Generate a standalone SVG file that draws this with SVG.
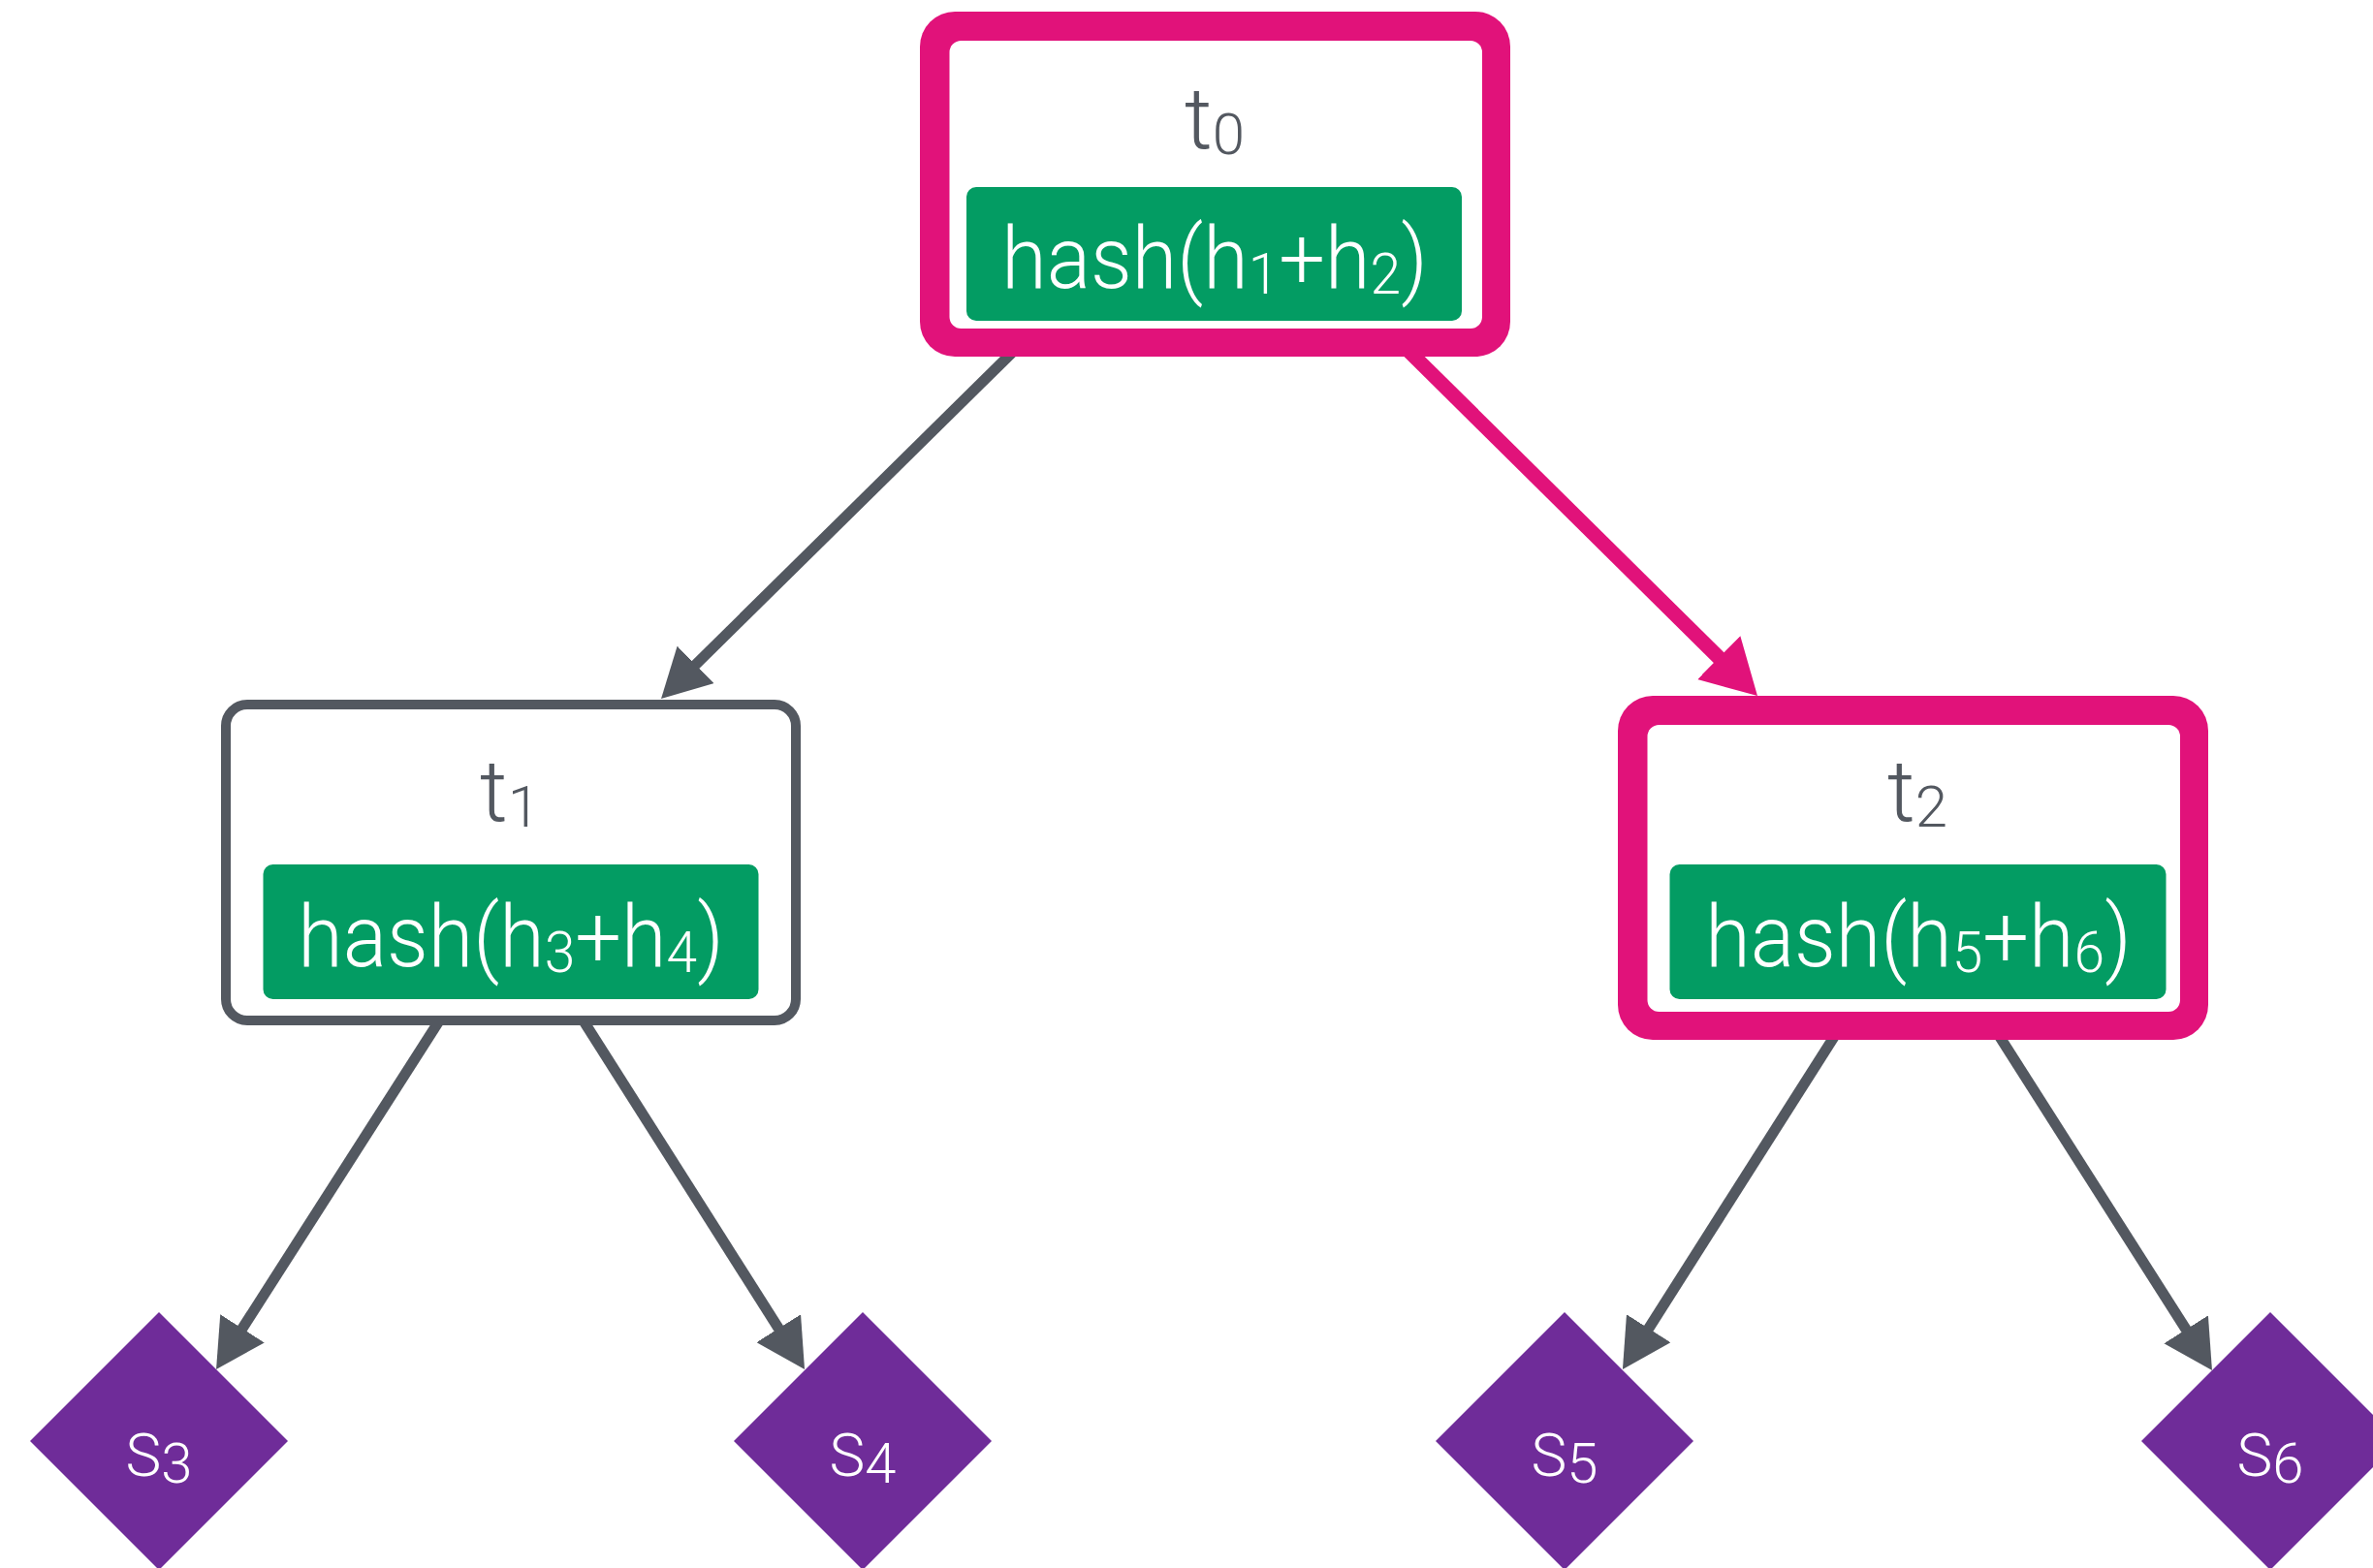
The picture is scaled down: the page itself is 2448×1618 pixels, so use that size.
<svg xmlns="http://www.w3.org/2000/svg" width="2448" height="1618" viewBox="0 0 2448 1618">
<style>
.edge{fill:none;stroke:#535860;stroke-width:11}
.edge-hl{fill:none;stroke:#E1127A;stroke-width:15}
.frame-hl{fill:#E1127A}
.inner{fill:#FFFFFF}
.frame{fill:#FFFFFF;stroke:#535860;stroke-width:10}
.hashbox{fill:#039C63}
.lbl{font-family:Roboto,"Liberation Sans",sans-serif;font-weight:300;font-size:89px;fill:#535860;text-anchor:middle}
.hash{font-family:Roboto,"Liberation Sans",sans-serif;font-weight:300;font-size:89px;fill:#FFFFFF;text-anchor:middle}
.sub{font-size:60px}
.leaf{fill:#6F2C99}
.leaflbl{font-family:Roboto,"Liberation Sans",sans-serif;font-weight:300;font-size:62px;fill:#FFFFFF;text-anchor:middle}
.leafsub{font-size:58px}
</style>
<defs>
<marker id="arrGray" markerUnits="userSpaceOnUse" markerWidth="50" markerHeight="54" refX="10" refY="27" orient="auto" viewBox="0 0 50 54">
<path d="M0,0 L50,27 L0,54 Z" fill="#535860"/>
</marker>
<marker id="arrPink" markerUnits="userSpaceOnUse" markerWidth="56" markerHeight="63" refX="12" refY="31.5" orient="auto" viewBox="0 0 56 63">
<path d="M0,0 L56,31.5 L0,63 Z" fill="#E1127A"/>
</marker>
</defs>
<rect width="2448" height="1618" fill="#FFFFFF"/>
<g id="connectors">
<line class="edge" x1="1050" y1="358" x2="710.5" y2="692.9" marker-end="url(#arrGray)"/>
<line class="edge-hl" x1="1449" y1="358" x2="1781.7" y2="687.1" marker-end="url(#arrPink)"/>
<line class="edge" x1="457.4" y1="1046.6" x2="244.6" y2="1379.3" marker-end="url(#arrGray)"/>
<line class="edge" x1="597.6" y1="1046.6" x2="808.6" y2="1379.2" marker-end="url(#arrGray)"/>
<line class="edge" x1="1895.4" y1="1064.6" x2="1695.4" y2="1379.2" marker-end="url(#arrGray)"/>
<line class="edge" x1="2059.6" y1="1064.6" x2="2260.5" y2="1380.3" marker-end="url(#arrGray)"/>
</g>
<g id="t0">
<rect class="frame-hl" x="949" y="12" width="609" height="356" rx="36"/>
<rect class="inner" x="979.5" y="42" width="549.5" height="297" rx="12"/>
<rect class="hashbox" x="997" y="193" width="511" height="138" rx="10"/>
<text class="lbl" x="1253" y="153">t<tspan class="sub" dy="6">0</tspan></text>
<text class="hash" transform="translate(1253,297) scale(0.95,1)">hash(h<tspan class="sub" dy="6">1</tspan><tspan dy="-6">+h</tspan><tspan class="sub" dy="6">2</tspan><tspan dy="-6">)</tspan></text>
</g>
<g id="t1">
<rect class="frame" x="233" y="727" width="588" height="326" rx="22"/>
<rect class="hashbox" x="271.5" y="892" width="511" height="139" rx="10"/>
<text class="lbl" x="526" y="847">t<tspan class="sub" dy="6">1</tspan></text>
<text class="hash" transform="translate(527,997) scale(0.95,1)">hash(h<tspan class="sub" dy="6">3</tspan><tspan dy="-6">+h</tspan><tspan class="sub" dy="6">4</tspan><tspan dy="-6">)</tspan></text>
</g>
<g id="t2">
<rect class="frame-hl" x="1669" y="718" width="609" height="355" rx="36"/>
<rect class="inner" x="1699.5" y="748" width="549.5" height="296" rx="12"/>
<rect class="hashbox" x="1722.5" y="892" width="512" height="139" rx="10"/>
<text class="lbl" x="1978" y="847">t<tspan class="sub" dy="6">2</tspan></text>
<text class="hash" transform="translate(1979,997) scale(0.95,1)">hash(h<tspan class="sub" dy="6">5</tspan><tspan dy="-6">+h</tspan><tspan class="sub" dy="6">6</tspan><tspan dy="-6">)</tspan></text>
</g>
<g id="s3">
<polygon class="leaf" points="164,1354 297,1487 164,1620 31,1487"/>
<text class="leaflbl" x="164" y="1523">S<tspan class="leafsub" dy="7">3</tspan></text>
</g>
<g id="s4">
<polygon class="leaf" points="890,1354 1023,1487 890,1620 757,1487"/>
<text class="leaflbl" x="890" y="1523">S<tspan class="leafsub" dy="7">4</tspan></text>
</g>
<g id="s5">
<polygon class="leaf" points="1614,1354 1747,1487 1614,1620 1481,1487"/>
<text class="leaflbl" x="1614" y="1523">S<tspan class="leafsub" dy="7">5</tspan></text>
</g>
<g id="s6">
<polygon class="leaf" points="2342,1354 2475,1487 2342,1620 2209,1487"/>
<text class="leaflbl" x="2342" y="1523">S<tspan class="leafsub" dy="7">6</tspan></text>
</g>
</svg>
